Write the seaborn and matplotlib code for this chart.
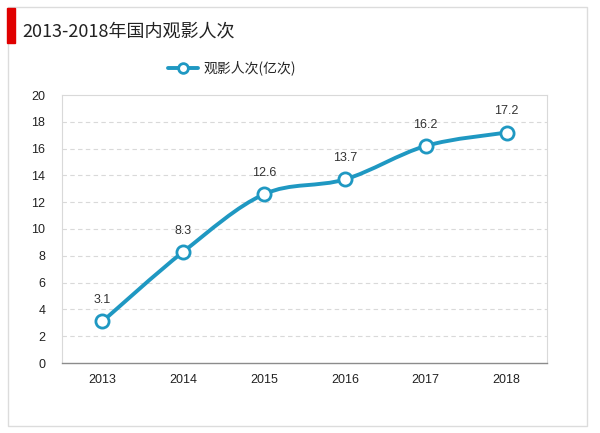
import numpy as np
import pandas as pd
import seaborn as sns
import matplotlib.pyplot as plt
from matplotlib.path import Path
from matplotlib.patches import PathPatch, Rectangle
from matplotlib.lines import Line2D

years = ["2013", "2014", "2015", "2016", "2017", "2018"]
viewers = [3.1, 8.3, 12.6, 13.7, 16.2, 17.2]
yticks = [0, 2, 4, 6, 8, 10, 12, 14, 16, 18, 20]

sns.set_theme(style="white")
plt.rcParams["font.family"] = ["Liberation Sans", "Noto Sans CJK SC", "DejaVu Sans"]
cjk = ["Noto Sans CJK SC", "DejaVu Sans"]
color = "#1f98c2"

df = pd.DataFrame({"year": years, "v": viewers})

fig = plt.figure(figsize=(6, 4.33), dpi=100)
ax = fig.add_axes([62 / 600, 1 - 363 / 433, 485 / 600, 268 / 433])

# outer frame and title marker
fig.patches.append(Rectangle((8 / 600, 1 - 426 / 433), 579 / 600, 419 / 433,
                             transform=fig.transFigure, fill=False,
                             edgecolor="#dcdcdc", linewidth=1))
fig.patches.append(Rectangle((7 / 600, 1 - 43 / 433), 8 / 600, 35 / 433,
                             transform=fig.transFigure, color="#e00000"))
fig.text(22 / 600, 1 - 31 / 433, "2013-2018年国内观影人次", family=cjk,
         fontsize=13, va="center", ha="left", color="#222222")

# smoothed line (Catmull-Rom to Bezier) through the data points
x = np.arange(len(viewers), dtype=float)
y = np.array(viewers)
verts = [(x[0], y[0])]
codes = [Path.MOVETO]
t = 0.5
for i in range(len(x) - 1):
    p0 = (x[max(i - 1, 0)], y[max(i - 1, 0)])
    p1 = (x[i], y[i])
    p2 = (x[i + 1], y[i + 1])
    p3 = (x[min(i + 2, len(x) - 1)], y[min(i + 2, len(x) - 1)])
    c1 = (p1[0] + (p2[0] - p0[0]) * t / 3, p1[1] + (p2[1] - p0[1]) * t / 3)
    c2 = (p2[0] - (p3[0] - p1[0]) * t / 3, p2[1] - (p3[1] - p1[1]) * t / 3)
    verts += [c1, c2, p2]
    codes += [Path.CURVE4] * 3
ax.add_patch(PathPatch(Path(verts, codes), fill=False, edgecolor=color,
                       linewidth=2.8, zorder=3, capstyle="round"))

sns.scatterplot(data=df, x="year", y="v", ax=ax, s=90, color="white",
                edgecolor=color, linewidth=2, zorder=4, legend=False)

for i, v in enumerate(viewers):
    ax.annotate(f"{v}", (i, v), xytext=(0, 11), textcoords="offset points",
                ha="center", va="bottom", fontsize=9, color="#333333")

ax.set_xlim(-0.5, len(years) - 0.5)
ax.set_ylim(0, 20)
ax.set_yticks(yticks)
ax.set_yticklabels([str(v) for v in yticks])
ax.set_xlabel("")
ax.set_ylabel("")
ax.tick_params(axis="both", labelsize=9, colors="#222222", length=0, pad=8)
ax.tick_params(axis="y", pad=12)
for yv in yticks[1:-1]:
    ax.axhline(yv, color="#d9d9d9", linestyle=(0, (4, 3)), linewidth=0.8, zorder=1)
for side in ["top", "right", "left"]:
    ax.spines[side].set_color("#d9d9d9")
    ax.spines[side].set_linewidth(0.8)
ax.spines["bottom"].set_color("#8c8c8c")
ax.spines["bottom"].set_linewidth(1)

handle = Line2D([], [], color=color, linewidth=2.8, marker="o", markersize=7,
                markerfacecolor="white", markeredgecolor=color, markeredgewidth=2)
fig.legend([handle], ["观影人次(亿次)"], loc="center",
           bbox_to_anchor=(232 / 600, 1 - 68 / 433), frameon=False,
           prop={"family": cjk, "size": 10}, handlelength=2.2, handletextpad=0.4)

fig.savefig("out.png", dpi=100)
